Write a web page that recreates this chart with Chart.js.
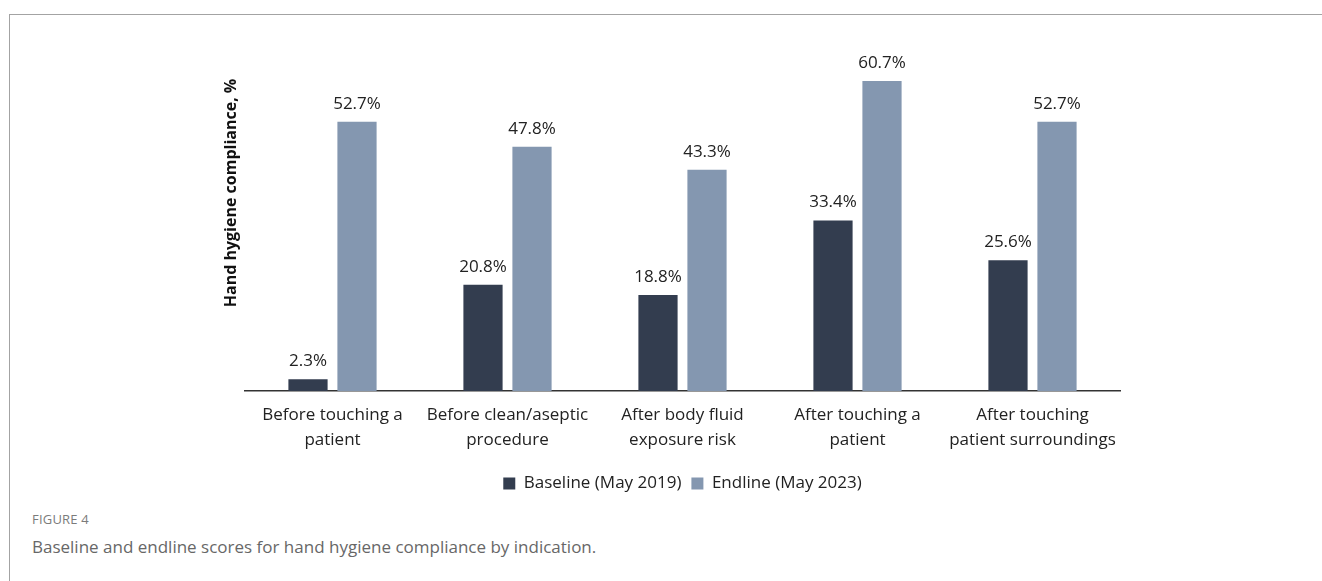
<!DOCTYPE html>
<html>
<head>
<meta charset="utf-8">
<script src="https://cdn.jsdelivr.net/npm/chart.js@4.4.1/dist/chart.umd.min.js"></script>
<style>
html, body { margin: 0; padding: 0; background: #fff; }
body { width: 1322px; height: 581px; position: relative; overflow: hidden; font-family: "Open Sans", sans-serif; }
.frame { position: absolute; left: 9px; top: 14px; width: 1330px; height: 600px; border-left: 1.5px solid #a3a3a3; border-top: 1.5px solid #a3a3a3; }
#chart { position: absolute; left: 0; top: 0; }
.fig-label { position: absolute; left: 32px; top: 510px; font-size: 13px; color: #7b7b7b; letter-spacing: 0.2px; }
.fig-caption { position: absolute; left: 32px; top: 535px; font-size: 17px; color: #676767; }
</style>
</head>
<body>
<div class="frame"></div>
<canvas id="chart" width="1322" height="506"></canvas>
<div class="fig-label">FIGURE 4</div>
<div class="fig-caption">Baseline and endline scores for hand hygiene compliance by indication.</div>
<script>
const categories = [
    ["Before touching a", "patient"],
    ["Before clean/aseptic", "procedure"],
    ["After body fluid", "exposure risk"],
    ["After touching a", "patient"],
    ["After touching", "patient surroundings"],
];
const baselineValues = [2.3, 20.8, 18.8, 33.4, 25.6];
const endlineValues = [52.7, 47.8, 43.3, 60.7, 52.7];
const seriesNames = ["Baseline (May 2019)", "Endline (May 2023)"];
const yAxisTitle = "Hand hygiene compliance, %";

const COLORS = {
    baseline: "#333d4f",
    endline: "#8497b0",
    text: "#222222",
    axis: "#333333",
};
const FONT = "'Open Sans', sans-serif";

// percentage above each bar
const valueLabels = {
    id: "valueLabels",
    afterDatasetsDraw(chart) {
        const ctx = chart.ctx;
        ctx.save();
        ctx.font = `17px ${FONT}`;
        ctx.fillStyle = COLORS.text;
        ctx.textAlign = "center";
        ctx.textBaseline = "alphabetic";
        chart.data.datasets.forEach((dataset, i) => {
            chart.getDatasetMeta(i).data.forEach((bar, j) => {
                ctx.fillText(`${dataset.data[j].toFixed(1)}%`, bar.x, bar.y - 13);
            });
        });
        ctx.restore();
    },
};

// rotated y title, drawn by hand because the y axis itself is hidden
const yTitle = {
    id: "yTitle",
    afterDraw(chart) {
        const ctx = chart.ctx;
        ctx.save();
        ctx.translate(231, 193);
        ctx.rotate(-Math.PI / 2);
        ctx.font = `bold 16px ${FONT}`;
        ctx.fillStyle = "#111";
        ctx.textAlign = "center";
        ctx.textBaseline = "middle";
        ctx.fillText(yAxisTitle, 0, 0);
        ctx.restore();
    },
};

new Chart(document.getElementById("chart").getContext("2d"), {
    type: "bar",
    data: {
        labels: categories,
        datasets: [
            {
                label: seriesNames[0],
                data: baselineValues,
                backgroundColor: COLORS.baseline,
                categoryPercentage: 0.56,
                barPercentage: 0.8,
            },
            {
                label: seriesNames[1],
                data: endlineValues,
                backgroundColor: COLORS.endline,
                categoryPercentage: 0.56,
                barPercentage: 0.8,
            },
        ],
    },
    options: {
        responsive: false,
        animation: false,
        layout: {
            padding: { left: 245, right: 202, top: 59, bottom: 4 },
        },
        plugins: {
            tooltip: { enabled: false },
            legend: {
                position: "bottom",
                labels: {
                    color: COLORS.text,
                    font: { family: FONT, size: 17 },
                    boxWidth: 12,
                    boxHeight: 12,
                    padding: 10,
                },
            },
        },
        scales: {
            x: {
                grid: { display: false, drawTicks: false },
                border: { display: true, color: COLORS.axis, width: 1.5 },
                ticks: {
                    color: COLORS.text,
                    font: { family: FONT, size: 17, lineHeight: 1.47 },
                    padding: 12,
                    maxRotation: 0,
                    autoSkip: false,
                },
            },
            y: {
                display: false,
                min: 0,
                max: 65,
            },
        },
    },
    plugins: [valueLabels, yTitle],
});
</script>
</body>
</html>
